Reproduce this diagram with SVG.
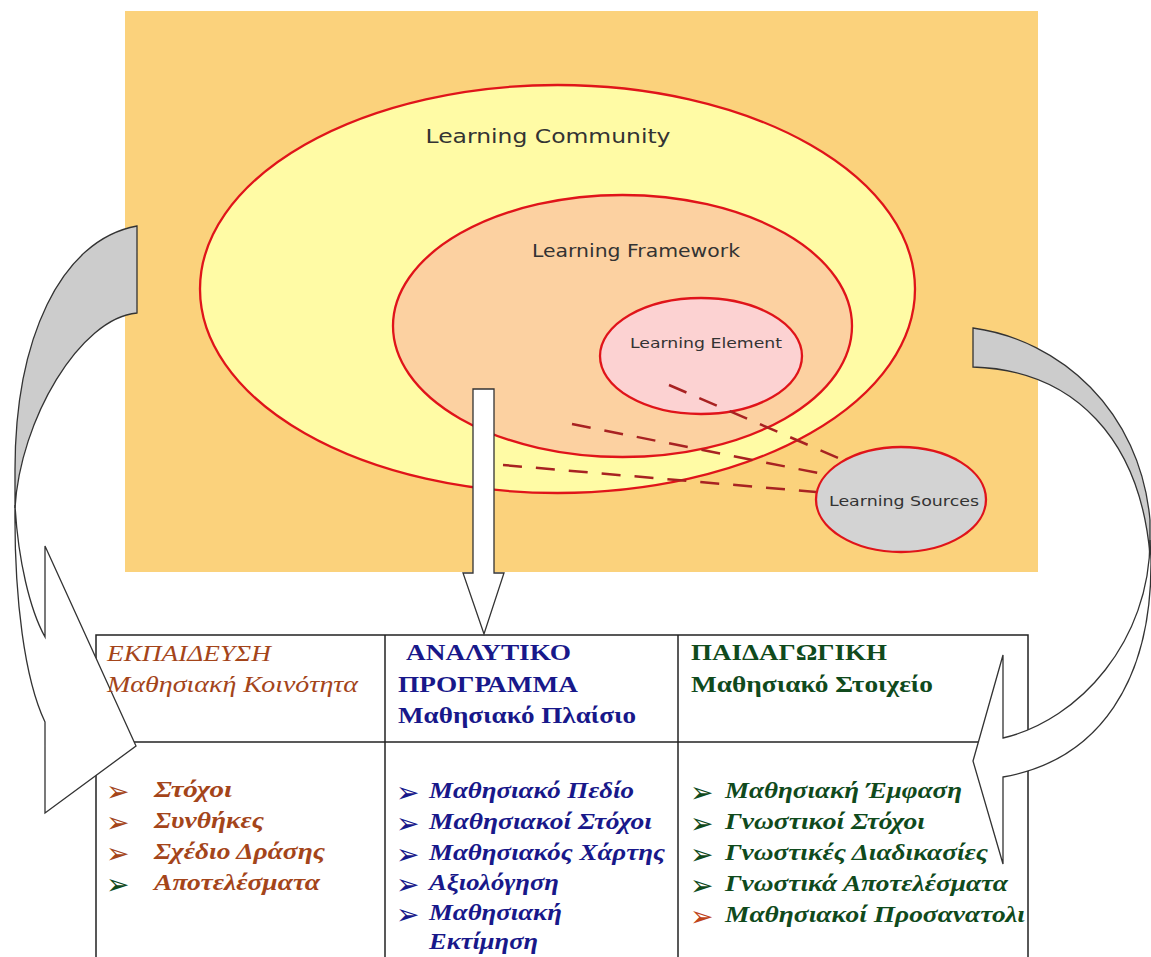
<svg xmlns="http://www.w3.org/2000/svg" width="1151" height="957" viewBox="0 0 1151 957">
<style>
.ell{stroke:#e0141a;stroke-width:2.3}
.lbl{font-family:"DejaVu Sans","Liberation Sans",sans-serif;fill:#333;text-anchor:middle}
.dash{stroke:#a82222;stroke-width:2.5;stroke-dasharray:19 14;fill:none}
.arr{stroke:#333;stroke-width:1.3;stroke-linejoin:miter}
.tl{stroke:#222;stroke-width:1.5;fill:none}
.t{font-family:"Liberation Serif","Times New Roman",serif;font-size:23px}
.it{font-style:italic}
.b{font-weight:bold}
.bi{font-weight:bold;font-style:italic}
.c1{fill:#a4451a}
.c2{fill:#18188a}
.c3{fill:#104a1c}
.bul{font-family:"DejaVu Sans",sans-serif;font-size:28px}
</style>
<rect width="1151" height="957" fill="#ffffff"/>
<rect id="background" x="125" y="11" width="913" height="561" fill="#fbd27c"/>
<g id="community">
<ellipse class="ell" cx="557.5" cy="289" rx="357.5" ry="204" fill="#fffba5"/>
<text class="lbl" x="548" y="143" font-size="20" textLength="245" lengthAdjust="spacingAndGlyphs">Learning Community</text>
</g>
<g id="framework">
<ellipse class="ell" cx="622.5" cy="326" rx="229.5" ry="131" fill="#fcd1a1"/>
<text class="lbl" x="636" y="257" font-size="18.5" textLength="208" lengthAdjust="spacingAndGlyphs">Learning Framework</text>
</g>
<g id="element">
<ellipse class="ell" cx="701" cy="356" rx="101" ry="58" fill="#fcd2d2"/>
<text class="lbl" x="706" y="348" font-size="14.5" textLength="152" lengthAdjust="spacingAndGlyphs">Learning Element</text>
</g>
<g id="connectors">
<line class="dash" x1="669" y1="385" x2="843" y2="460"/>
<line class="dash" x1="572" y1="424" x2="828" y2="475"/>
<line class="dash" x1="503" y1="465" x2="816" y2="492"/>
</g>
<g id="sources">
<ellipse class="ell" cx="901" cy="499.5" rx="85" ry="52.5" fill="#d3d3d3"/>
<text class="lbl" x="904" y="506" font-size="14.5" textLength="150" lengthAdjust="spacingAndGlyphs">Learning Sources</text>
</g>
<g id="table">
<rect class="tl" x="96" y="635" width="932" height="330"/>
<line class="tl" x1="385" y1="635" x2="385" y2="960"/>
<line class="tl" x1="678" y1="635" x2="678" y2="960"/>
<line class="tl" x1="96" y1="742" x2="1028" y2="742"/>
</g>
<g id="arrows">
<path id="center-arrow" class="arr" fill="#ffffff" d="M473,389 L494,389 L494,573 L504,573 L484,634 L463,573 L473,573 Z"/>
<g id="left-arrow">
<path class="arr" fill="#cccccc" d="M137,226 L137,313 C80,318 20,420 15,508 L15,470 C15,340 60,240 137,226 Z"/>
<path class="arr" fill="#ffffff" d="M15,505 C18,560 30,610 45,637 L45,546 L136,746 L45,813 L45,722 C25,680 14,600 15,505 Z"/>
</g>
<g id="right-arrow">
<path class="arr" fill="#cccccc" d="M973,328 C1060,340 1140,410 1150,520 L1150,555 C1140,440 1075,370 973,367 Z"/>
<path class="arr" fill="#ffffff" d="M1150,540 C1150,640 1080,720 1003,738 L1003,655 L973,761 L1003,864 L1003,777 C1100,760 1152,680 1151,560 Z"/>
</g>
</g>
<g id="col1">
<text class="t it c1" x="107" y="661" textLength="164" lengthAdjust="spacingAndGlyphs">ΕΚΠΑΙΔΕΥΣΗ</text>
<text class="t it c1" x="107" y="692" textLength="251" lengthAdjust="spacingAndGlyphs">Μαθησιακή Κοινότητα</text>
<text class="bul c1" x="106" y="801">➢</text>
<text class="bul c1" x="106" y="832">➢</text>
<text class="bul c1" x="106" y="863">➢</text>
<text class="bul c3" x="106" y="894">➢</text>
<text class="t bi c1" x="154" y="797" textLength="78" lengthAdjust="spacingAndGlyphs">Στόχοι</text>
<text class="t bi c1" x="154" y="828" textLength="110" lengthAdjust="spacingAndGlyphs">Συνθήκες</text>
<text class="t bi c1" x="154" y="859" textLength="171" lengthAdjust="spacingAndGlyphs">Σχέδιο Δράσης</text>
<text class="t bi c1" x="154" y="890" textLength="166" lengthAdjust="spacingAndGlyphs">Αποτελέσματα</text>
</g>
<g id="col2">
<text class="t b c2" x="406" y="660" textLength="165" lengthAdjust="spacingAndGlyphs">ΑΝΑΛΥΤΙΚΟ</text>
<text class="t b c2" x="398" y="692" textLength="180" lengthAdjust="spacingAndGlyphs">ΠΡΟΓΡΑΜΜΑ</text>
<text class="t b c2" x="398" y="723" textLength="238" lengthAdjust="spacingAndGlyphs">Μαθησιακό Πλαίσιο</text>
<text class="bul c2" x="396" y="802">➢</text>
<text class="bul c2" x="396" y="833">➢</text>
<text class="bul c2" x="396" y="864">➢</text>
<text class="bul c2" x="396" y="894">➢</text>
<text class="bul c2" x="396" y="924">➢</text>
<text class="t bi c2" x="429" y="798" textLength="205" lengthAdjust="spacingAndGlyphs">Μαθησιακό Πεδίο</text>
<text class="t bi c2" x="429" y="829" textLength="223" lengthAdjust="spacingAndGlyphs">Μαθησιακοί Στόχοι</text>
<text class="t bi c2" x="429" y="860" textLength="236" lengthAdjust="spacingAndGlyphs">Μαθησιακός Χάρτης</text>
<text class="t bi c2" x="429" y="890" textLength="130" lengthAdjust="spacingAndGlyphs">Αξιολόγηση</text>
<text class="t bi c2" x="429" y="920" textLength="133" lengthAdjust="spacingAndGlyphs">Μαθησιακή</text>
<text class="t bi c2" x="429" y="949" textLength="109" lengthAdjust="spacingAndGlyphs">Εκτίμηση</text>
</g>
<g id="col3">
<text class="t b c3" x="691" y="660" textLength="196" lengthAdjust="spacingAndGlyphs">ΠΑΙΔΑΓΩΓΙΚΗ</text>
<text class="t b c3" x="691" y="692" textLength="242" lengthAdjust="spacingAndGlyphs">Μαθησιακό Στοιχείο</text>
<text class="bul c3" x="690" y="802">➢</text>
<text class="bul c3" x="690" y="833">➢</text>
<text class="bul c3" x="690" y="864">➢</text>
<text class="bul c3" x="690" y="895">➢</text>
<text class="bul" x="690" y="926" fill="#c0441a">➢</text>
<text class="t bi c3" x="725" y="798" textLength="237" lengthAdjust="spacingAndGlyphs">Μαθησιακή Έμφαση</text>
<text class="t bi c3" x="725" y="829" textLength="200" lengthAdjust="spacingAndGlyphs">Γνωστικοί Στόχοι</text>
<text class="t bi c3" x="725" y="860" textLength="263" lengthAdjust="spacingAndGlyphs">Γνωστικές Διαδικασίες</text>
<text class="t bi c3" x="725" y="891" textLength="283" lengthAdjust="spacingAndGlyphs">Γνωστικά Αποτελέσματα</text>
<text class="t bi c3" x="725" y="922" textLength="300" lengthAdjust="spacingAndGlyphs">Μαθησιακοί Προσανατολι</text>
</g>
</svg>
